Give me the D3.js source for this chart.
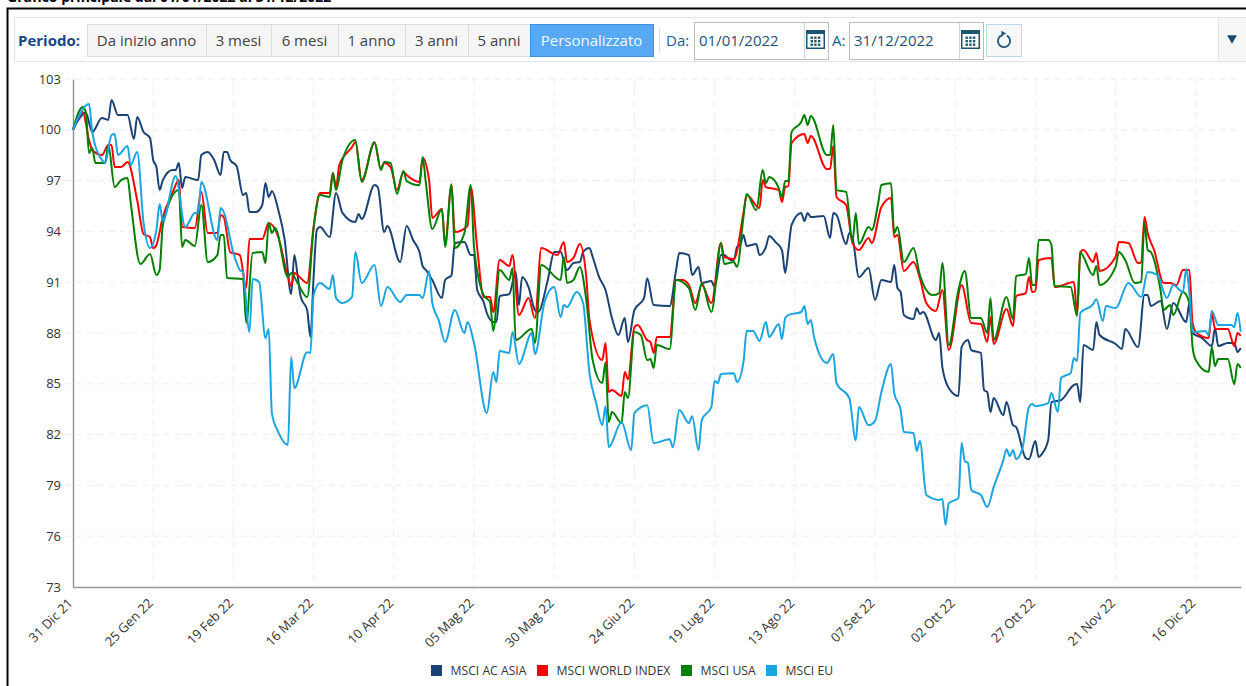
<!DOCTYPE html>
<html>
<head>
<meta charset="utf-8">
<script src="https://cdn.jsdelivr.net/npm/d3@7"></script>
<style>
  html, body { margin: 0; padding: 0; background: #fff; overflow: hidden; }
  text { font-family: "Open Sans", sans-serif; }
</style>
</head>
<body>
<svg id="chart" width="1246" height="686"></svg>
<script>
// points are [days since 31 Dec 21, index value]
const asiaPoints = [[0,100],[4,101],[6,99.87],[9,100.7],[11,100.58],[12,101.76],[14,100.87],[17,100.87],[19,99.46],[20,100.76],[22,99.87],[24,99.52],[25,98.22],[26,97.8],[27,96.44],[28,97.03],[31,97.63],[32,97.63],[33,98.04],[34,96.56],[35,97.21],[39,97.03],[40,98.51],[42,98.69],[44,98.22],[46,97.33],[47,98.69],[48,98.69],[49,98.22],[51,97.86],[53,96.15],[54,96.27],[55,95.14],[57,95.14],[59,95.56],[60,96.86],[61,96.03],[62,96.38],[64,95.26],[66,93.49],[68,90.3],[69,92.6],[70,91.42],[71,90.12],[73,89.35],[74,87.76],[75,91.3],[76,94.08],[77,94.26],[80,93.67],[82,96.27],[84,95.09],[88,94.55],[89,95.03],[90,94.73],[94,96.74],[95,96.62],[97,93.96],[98,94.32],[102,92.19],[104,94.32],[106,93.49],[108,92.78],[109,91.95],[110,91.72],[112,91.13],[115,90.06],[116,91.13],[118,91.42],[119,93.31],[122,93.37],[124,92.6],[125,92.6],[126,90.54],[128,89.83],[129,89.18],[131,88.65],[132,88.65],[133,90.18],[136,90.3],[138,91.6],[139,89.65],[140,91.3],[142,90.71],[144,89.35],[145,89.24],[148,91.13],[150,92.78],[152,92.78],[154,91.72],[156,92.13],[158,92.19],[159,92.78],[161,93.02],[162,92.49],[164,91.3],[166,90.54],[168,88.88],[170,87.88],[172,88.88],[173,87.47],[175,89.35],[178,90.06],[179,91.24],[181,89.65],[186,89.59],[188,91.72],[189,92.72],[192,92.6],[193,91.42],[195,91.9],[196,90.95],[199,91.07],[200,90.71],[202,92.6],[203,92.6],[205,92.31],[206,92.31],[207,93.08],[208,93.2],[209,93.79],[210,93.14],[213,93.25],[214,92.6],[216,93.08],[217,93.73],[219,93.37],[221,92.9],[222,91.54],[223,92.9],[224,94.38],[227,95.09],[228,94.61],[229,95.09],[230,94.85],[234,94.91],[236,93.61],[237,95.09],[238,94.97],[241,93.25],[242,93.9],[243,93.61],[245,91.3],[248,91.84],[250,89.95],[252,91.13],[255,91.01],[256,92.01],[257,90.66],[258,90.42],[259,89.06],[262,88.82],[263,89.47],[264,89.12],[265,89.24],[269,87.58],[270,88],[271,85.99],[273,84.75],[276,84.28],[277,87.17],[279,87.58],[280,86.99],[283,86.82],[284,84.63],[285,84.51],[286,83.33],[287,84.16],[290,83.15],[291,83.92],[293,82.56],[294,82.44],[297,80.61],[298,80.55],[300,81.62],[301,80.67],[302,80.85],[304,81.68],[305,83.92],[308,84.04],[312,84.93],[313,84.99],[314,83.92],[315,87.29],[318,87],[319,88.65],[320,87.88],[325,87.35],[327,87.06],[328,88.23],[332,87.17],[334,90.24],[335,90.24],[336,89.59],[339,89.89],[341,88.23],[343,89.77],[347,88.65],[348,89.77],[349,88],[352,87.7],[355,87.23],[356,88.29],[357,87.23],[360,87.41],[362,87.41],[363,86.88],[364,87.11]];

const worldPoints = [[0,100],[3,101.05],[5,99.4],[6,98.81],[9,98.51],[11,99.1],[12,99.1],[13,97.8],[15,97.8],[17,98.1],[20,95.85],[22,93.84],[24,93.66],[25,93.01],[26,93.2],[28,94.85],[31,96.27],[33,97.03],[34,94.26],[38,94.2],[40,96.33],[42,93.9],[45,93.9],[46,94.97],[47,94.85],[49,92.78],[52,92.6],[54,90.66],[55,93.55],[59,93.55],[61,94.5],[64,93.67],[67,91.3],[68,90.77],[69,91.54],[70,91.42],[73,90.95],[75,94.26],[77,96.27],[80,96.27],[81,97.45],[82,96.62],[83,97.92],[87,98.98],[88,99.28],[90,97.03],[94,99.22],[96,97.68],[97,98.04],[99,97.8],[101,96.44],[103,97.51],[104,97.33],[108,96.92],[109,98.33],[111,97.03],[112,94.79],[115,95.32],[116,93.31],[118,96.74],[119,93.96],[123,94.32],[124,96.62],[126,93.02],[128,90.12],[130,90.12],[131,89.24],[133,92.31],[136,91.95],[137,92.6],[139,89.06],[142,90.06],[144,88.88],[146,93.02],[151,92.6],[153,93.37],[154,92.19],[156,92.43],[158,93.25],[160,91.3],[161,88.76],[165,86.4],[166,87.41],[167,84.51],[168,84.63],[171,84.28],[172,85.69],[173,85.28],[175,88.35],[176,88.47],[179,87.58],[180,87.47],[181,86.82],[182,87.76],[186,87.76],[188,91.13],[190,91.13],[192,90.83],[194,89.77],[196,90.83],[199,89.77],[202,93.31],[203,92.49],[206,92.37],[209,95.09],[210,96.15],[214,95.38],[215,97.03],[216,96.62],[220,96.44],[221,95.73],[222,96.62],[223,96.68],[224,99.22],[228,99.75],[229,99.22],[230,99.63],[235,97.68],[236,97.68],[237,99.04],[238,96.03],[241,95.56],[243,93.31],[245,92.9],[248,93.61],[249,93.31],[252,95.44],[255,95.97],[256,93.67],[257,93.79],[259,91.66],[262,92.19],[264,91.24],[266,89.77],[269,89.3],[271,90.54],[273,86.99],[277,90.83],[280,88.59],[283,88.53],[285,87.47],[286,88.94],[287,87.35],[291,89.41],[293,88.41],[294,90.18],[297,90.36],[298,91.3],[299,90.42],[300,90.48],[301,92.31],[305,92.43],[306,90.71],[312,91.01],[313,89.18],[314,92.78],[315,92.9],[318,92.19],[319,92.72],[320,91.66],[325,92.49],[326,93.37],[329,93.31],[332,92.13],[333,92.19],[334,94.85],[335,93.9],[337,92.9],[340,90.95],[342,90.95],[344,90.83],[346,91.72],[348,91.72],[349,88.59],[350,88.06],[354,87.7],[355,89.18],[356,88.23],[360,88.23],[362,87.23],[363,88],[364,87.82]];

const usaPoints = [[0,100],[3,101.35],[4,101.05],[5,98.63],[6,98.92],[7,98.04],[10,98.04],[11,99.1],[13,96.62],[15,97.03],[17,97.15],[18,95.68],[21,92.07],[24,92.66],[26,91.42],[27,91.72],[28,94.38],[33,96.44],[34,93.08],[35,93.49],[38,93.14],[40,95.56],[42,92.19],[45,92.6],[46,93.79],[47,93.79],[48,91.25],[53,91.19],[54,88.59],[56,92.72],[59,92.78],[60,92.13],[61,94.5],[62,93.9],[63,94.2],[67,91.3],[68,91.54],[70,90.95],[73,90.12],[75,94.2],[77,96.15],[80,96.03],[81,97.45],[82,96.44],[84,98.22],[88,99.4],[90,96.92],[94,99.28],[96,97.63],[97,98.1],[99,98.04],[101,96.21],[103,97.56],[104,96.97],[108,96.73],[109,98.39],[110,96.85],[112,94.14],[115,95.32],[116,93.08],[118,96.79],[119,93.02],[122,93.9],[124,96.74],[125,93.08],[128,90.24],[130,89.83],[131,88.12],[133,91.72],[136,91.13],[137,91.84],[138,87.58],[143,88.23],[144,87.41],[146,92.01],[152,91.13],[153,92.49],[154,90.95],[156,91.13],[158,91.9],[160,89.95],[162,86.4],[165,85.05],[166,86.28],[167,82.74],[168,83.33],[171,82.68],[172,84.51],[173,84.16],[175,88.06],[177,87.88],[179,86.4],[180,86.46],[181,85.93],[182,87.29],[186,87.05],[188,91.13],[192,90.65],[194,89.36],[196,90.95],[199,89.24],[202,93.31],[203,92.07],[206,92.19],[207,91.9],[209,94.85],[210,96.21],[213,95.26],[215,97.62],[216,96.85],[217,97.21],[220,96.56],[221,96.03],[222,96.97],[223,96.97],[224,99.87],[227,100.46],[228,100.87],[229,100.28],[230,100.81],[235,98.51],[236,98.51],[237,100.28],[238,96.44],[241,96.33],[243,93.37],[244,95.09],[245,93.25],[248,94.26],[249,94.08],[251,95.68],[252,96.74],[255,96.85],[256,93.9],[257,94.26],[259,92.19],[262,93.02],[264,91.42],[268,90.24],[270,90.36],[271,92.13],[273,87.28],[276,90.54],[278,91.66],[280,88.88],[283,88.88],[285,88],[286,90.07],[287,87.58],[291,90.13],[293,88.83],[294,91.36],[297,91.48],[298,92.43],[299,90.83],[300,90.83],[301,93.49],[304,93.49],[305,93.2],[306,90.77],[311,90.71],[313,89],[314,92.72],[318,91.42],[319,91.96],[320,90.83],[325,91.9],[326,92.78],[328,92.31],[331,90.95],[333,91.01],[334,94.5],[335,92.9],[336,92.78],[339,90.54],[340,89.36],[342,89.65],[343,89.06],[346,90.42],[348,89.77],[349,87.17],[350,86.4],[354,85.69],[355,87.17],[356,86.05],[357,86.46],[360,86.46],[362,84.98],[363,86.17],[364,85.93]];

const euPoints = [[0,100],[5,101.52],[6,99.87],[9,98.22],[10,98.04],[12,99.69],[13,99.75],[14,98.51],[17,99.04],[18,97.92],[20,98.69],[22,94.5],[24,93.02],[26,94.08],[27,95.62],[28,94.61],[32,97.27],[35,94.26],[38,95.09],[39,95.09],[40,96.92],[45,93.49],[46,95.38],[47,95.14],[50,92.72],[52,91.72],[53,91.6],[55,88.06],[56,91.19],[58,91.01],[60,87.7],[61,88.23],[62,83.27],[64,82.15],[67,81.38],[68,86.58],[69,84.75],[73,86.87],[74,86.82],[75,90.24],[77,90.95],[80,90.6],[81,91.43],[82,90.06],[84,89.77],[87,90.13],[88,92.78],[90,90.95],[94,92.01],[96,89.59],[98,90.71],[102,89.83],[104,90.24],[108,90.24],[109,90.06],[111,91.66],[112,89.77],[114,88.76],[116,87.47],[119,89.36],[122,88],[123,88.65],[125,87.41],[129,83.27],[131,85.69],[132,85.1],[133,86.93],[136,86.82],[137,88.06],[139,86.17],[143,87.99],[144,86.76],[147,89.83],[150,90.71],[152,88.94],[153,89.65],[154,89.53],[157,90.42],[159,89.77],[161,85.63],[163,83.92],[165,82.56],[166,83.68],[167,81.26],[171,82.74],[174,81.08],[175,83.27],[179,83.74],[181,81.5],[186,81.73],[187,81.26],[189,83.45],[192,82.68],[193,83.09],[195,81.08],[196,82.86],[199,83.63],[200,85.17],[201,85.05],[202,85.58],[206,85.63],[207,85.1],[209,86.28],[210,88.12],[212,88.12],[214,87.53],[216,88.65],[217,87.76],[220,88.53],[221,87.64],[222,88.88],[223,89.06],[227,89.24],[228,89.59],[229,88.53],[230,88.77],[231,87.76],[235,86.23],[237,86.76],[238,85.04],[242,84.16],[244,81.67],[245,83.63],[248,82.56],[250,82.8],[252,84.51],[255,86.17],[256,84.45],[258,83.45],[259,82.15],[262,82.09],[263,81.03],[264,81.62],[266,78.43],[270,78.14],[271,78.2],[272,76.66],[273,77.95],[276,78.25],[277,81.5],[278,80.44],[279,80.32],[280,78.73],[283,78.43],[285,77.72],[287,78.9],[290,80.49],[291,81.14],[292,80.73],[293,81.09],[294,80.55],[296,81.2],[298,83.63],[299,83.8],[300,83.68],[304,83.86],[305,84.45],[307,83.33],[308,85.34],[309,85.46],[311,85.63],[312,86.52],[313,86.34],[314,89.18],[318,89.71],[319,90],[321,88.71],[322,89.59],[325,89.47],[329,90.95],[333,90.12],[335,91.6],[338,91.43],[341,90.07],[343,90.83],[346,90.42],[347,91.78],[348,90.36],[349,88.06],[353,88.12],[354,87.88],[355,89.3],[357,88.47],[361,88.47],[362,88.35],[363,89.18],[364,88.06]];

const seriesNames = ["MSCI AC ASIA", "MSCI WORLD INDEX", "MSCI USA", "MSCI EU"];
const seriesColors = ["#1a4373", "#ff0000", "#008000", "#1ba5e0"];
const seriesData = [asiaPoints, worldPoints, usaPoints, euPoints];

const yTicks = [73, 76, 79, 82, 85, 88, 91, 94, 97, 100, 103];
const xTickDays = [0, 25, 50, 75, 100, 125, 150, 175, 200, 225, 250, 275, 300, 325, 350];
const xTickLabels = ["31 Dic 21", "25 Gen 22", "19 Feb 22", "16 Mar 22", "10 Apr 22", "05 Mag 22", "30 Mag 22", "24 Giu 22", "19 Lug 22", "13 Ago 22", "07 Set 22", "02 Ott 22", "27 Ott 22", "21 Nov 22", "16 Dic 22"];

const periodLabels = ["Da inizio anno", "3 mesi", "6 mesi", "1 anno", "3 anni", "5 anni", "Personalizzato"];
const periodEdges = [87, 206, 271, 338, 405, 468, 530, 653];

const svg = d3.select("#chart");

const xScale = d3.scaleLinear([0, 364], [73, 1240.7]);
const yScale = d3.scaleLinear([73, 103], [587, 79]);

// outer frame and title, cut off by the top of the page
svg.append("text").attr("x", 7).attr("y", 1.5)
  .attr("font-size", 14).attr("font-weight", 700).attr("fill", "#000")
  .text("Grafico principale dal 01/01/2022 al 31/12/2022");
svg.append("path").attr("d", "M7.5,686V8.5H1246").attr("fill", "none").attr("stroke", "#000").attr("stroke-width", 2);

// toolbar
const bar = svg.append("g");
bar.append("rect").attr("x", 14.5).attr("y", 17.5).attr("width", 1232).attr("height", 44)
  .attr("fill", "#fff").attr("stroke", "#e3e3e3");
bar.append("rect").attr("x", 1218.5).attr("y", 18).attr("width", 28).attr("height", 43).attr("fill", "#f7f7f7");
bar.append("line").attr("x1", 1218.5).attr("x2", 1218.5).attr("y1", 18).attr("y2", 61).attr("stroke", "#e3e3e3");
bar.append("path").attr("d", d3.symbol(d3.symbolTriangle, 42)()).attr("transform", "translate(1232,38) rotate(180)").attr("fill", "#1a4a6e");

bar.append("text").attr("x", 18).attr("y", 46).attr("font-size", 15).attr("font-weight", 700).attr("fill", "#17478a").text("Periodo:");

periodLabels.forEach((label, i) => {
  const on = i === periodLabels.length - 1;
  const x0 = periodEdges[i], x1 = periodEdges[i + 1];
  bar.append("rect").attr("x", x0 + 0.5).attr("y", 24.5).attr("width", x1 - x0).attr("height", 32)
    .attr("fill", on ? "#57a8f5" : "#f5f5f5").attr("stroke", on ? "#3f8fdc" : "#dcdcdc");
  bar.append("text").attr("x", (x0 + x1) / 2).attr("y", 46).attr("text-anchor", "middle")
    .attr("font-size", 15).attr("fill", on ? "#f2f8ff" : "#444").text(label);
});

bar.append("line").attr("x1", 659.5).attr("x2", 659.5).attr("y1", 28).attr("y2", 53).attr("stroke", "#ddd");

function dateField(labelText, labelX, boxX, value) {
  bar.append("text").attr("x", labelX).attr("y", 46).attr("font-size", 15).attr("fill", "#1d5a96").text(labelText);
  bar.append("rect").attr("x", boxX + 0.5).attr("y", 22.5).attr("width", 134).attr("height", 37).attr("fill", "#fff").attr("stroke", "#bdbdbd");
  bar.append("line").attr("x1", boxX + 110.5).attr("x2", boxX + 110.5).attr("y1", 23).attr("y2", 59).attr("stroke", "#d5d5d5");
  bar.append("text").attr("x", boxX + 5).attr("y", 46).attr("font-size", 15).attr("fill", "#1f4f7a").text(value);
  // calendar icon
  const cal = bar.append("g").attr("transform", `translate(${boxX + 112},30)`);
  cal.append("rect").attr("x", 0.75).attr("y", 0.75).attr("width", 17.5).attr("height", 17.5).attr("fill", "#fff").attr("stroke", "#1d5670").attr("stroke-width", 1.5);
  cal.append("rect").attr("x", 0).attr("y", 0).attr("width", 19).attr("height", 4).attr("fill", "#1d5670");
  d3.range(3).forEach(r => d3.range(3).forEach(c => {
    cal.append("rect").attr("x", 4.5 + c * 3.7).attr("y", 6.5 + r * 3.5).attr("width", 2.4).attr("height", 2.4).attr("fill", "#1d5670");
  }));
}
dateField("Da:", 666, 694, "01/01/2022");
dateField("A:", 832, 849, "31/12/2022");

// reload button
bar.append("rect").attr("x", 986.5).attr("y", 24.5).attr("width", 35).attr("height", 32).attr("fill", "#f7f7f7").attr("stroke", "#b9dcea");
const reloadArc = d3.arc().innerRadius(5.2).outerRadius(7).startAngle(0.5).endAngle(2 * Math.PI - 0.2);
bar.append("path").attr("d", reloadArc()).attr("transform", "translate(1004,41)").attr("fill", "#1d5670");
bar.append("path").attr("d", d3.symbol(d3.symbolTriangle, 14)()).attr("transform", "translate(1003,33.5) rotate(90)").attr("fill", "#1d5670");

// grid
svg.append("g").selectAll("line").data(yTicks.slice(1)).join("line")
  .attr("x1", xScale(0) - 8).attr("x2", xScale(364))
  .attr("y1", d => yScale(d)).attr("y2", d => yScale(d))
  .attr("stroke", "#ececec").attr("stroke-dasharray", "6,5");
svg.append("g").selectAll("line").data(xTickDays.slice(1)).join("line")
  .attr("x1", d => xScale(d)).attr("x2", d => xScale(d))
  .attr("y1", yScale(103)).attr("y2", yScale(73))
  .attr("stroke", "#ececec").attr("stroke-dasharray", "6,5");

// axes
const yAxis = d3.axisLeft(yScale).tickValues(yTicks).tickSize(0).tickPadding(12);
const yG = svg.append("g").attr("transform", "translate(73,0)").call(yAxis);
yG.select(".domain").attr("stroke", "#999").attr("stroke-width", 1.5);
yG.selectAll("text").attr("font-size", 13).attr("fill", "#333").style("font-family", '"Open Sans", sans-serif');

const xAxis = d3.axisBottom(xScale).tickValues(xTickDays).tickSize(0)
  .tickFormat((d, i) => xTickLabels[i]);
const xG = svg.append("g").attr("transform", "translate(0,587)").call(xAxis);
xG.select(".domain").attr("stroke", "#999").attr("stroke-width", 1.5);
xG.selectAll("text")
  .attr("font-size", 13).attr("fill", "#333").style("font-family", '"Open Sans", sans-serif')
  .attr("text-anchor", "end").attr("dy", 0).attr("y", 0)
  .attr("transform", "translate(0,17) rotate(-45)");

// lines
const lineMaker = d3.line()
  .x(d => xScale(d[0]))
  .y(d => yScale(d[1]))
  .curve(d3.curveMonotoneX);

svg.selectAll(".series-line")
  .data(seriesData)
  .join("path")
  .attr("class", "series-line")
  .attr("d", lineMaker)
  .attr("fill", "none")
  .attr("stroke", (d, i) => seriesColors[i])
  .attr("stroke-width", 2)
  .attr("stroke-linejoin", "round");

// legend
const legendSquares = [431, 537, 681, 766];
const legend = svg.append("g");
seriesNames.forEach((name, i) => {
  legend.append("rect").attr("x", legendSquares[i]).attr("y", 665).attr("width", 11).attr("height", 11).attr("fill", seriesColors[i]);
  legend.append("text").attr("x", legendSquares[i] + 19.5).attr("y", 675).attr("font-size", 12.2).attr("fill", "#333").text(name);
});
</script>
</body>
</html>
